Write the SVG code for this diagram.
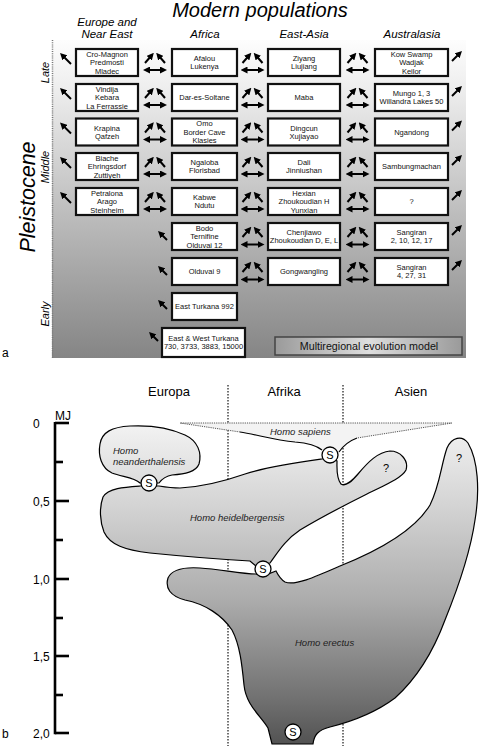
<svg xmlns="http://www.w3.org/2000/svg" width="480" height="746" viewBox="0 0 480 746">
<defs>
<linearGradient id="bga" x1="0" y1="0" x2="0" y2="1">
<stop offset="0" stop-color="#fdfdfd"/><stop offset="0.15" stop-color="#eeeeee"/><stop offset="1" stop-color="#858585"/>
</linearGradient>
<linearGradient id="mrg" x1="0" y1="0" x2="1" y2="0">
<stop offset="0" stop-color="#9a9a9a"/><stop offset="0.5" stop-color="#dedede"/><stop offset="1" stop-color="#9a9a9a"/>
</linearGradient>
<linearGradient id="gb" gradientUnits="userSpaceOnUse" x1="0" y1="420" x2="0" y2="745">
<stop offset="0" stop-color="#f4f4f4"/><stop offset="0.246" stop-color="#d6d6d6"/><stop offset="0.554" stop-color="#acacac"/><stop offset="0.862" stop-color="#707070"/><stop offset="1" stop-color="#525252"/>
</linearGradient>
<marker id="ah" viewBox="0 0 10 10" refX="5" refY="5" markerWidth="7" markerHeight="7" markerUnits="userSpaceOnUse" orient="auto-start-reverse"><path d="M0,0 L10,5 L0,10 z" fill="#000"/></marker>
<style>
.ttl{font-family:"Liberation Sans",Arial,sans-serif;font-style:italic;fill:#000}
.hd{font-family:"Liberation Sans",Arial,sans-serif;font-style:italic;font-size:11.5px;text-anchor:middle;fill:#000}
.per{font-family:"Liberation Sans",Arial,sans-serif;font-style:italic;font-size:11px;text-anchor:middle;fill:#000}
.box{fill:#fff;stroke:#111;stroke-width:2.2}
.bt{font-family:"Liberation Sans",Arial,sans-serif;font-size:7.5px;text-anchor:middle;fill:#111}
.ar{stroke:#000;stroke-width:2;fill:none;marker-end:url(#ah)}
.dar{stroke:#000;stroke-width:2;fill:none;marker-start:url(#ah);marker-end:url(#ah)}
.lab{font-family:"Liberation Sans",Arial,sans-serif;font-size:12px;fill:#000}
.reg{font-family:"Liberation Sans",Arial,sans-serif;font-size:13px;text-anchor:middle;fill:#000}
.sp{font-family:"Liberation Sans",Arial,sans-serif;font-style:italic;font-size:9.5px;fill:#222}
.shape{fill:url(#gb);stroke:#000;stroke-width:1.2}
.sc{fill:#fff;stroke:#000;stroke-width:1.3}
.st{font-family:"Liberation Sans",Arial,sans-serif;font-size:11px;text-anchor:middle;fill:#000}
.tick{stroke:#000;stroke-width:2.6}
.dot{stroke:#444;stroke-width:1.5;stroke-dasharray:1.5 1.5;fill:none}
</style>
</defs>
<rect width="480" height="746" fill="#fff"/>

<!-- Panel a -->
<g id="panel-a-background">
<rect x="52" y="40" width="414" height="318" fill="url(#bga)"/>
<line x1="52.5" y1="40" x2="52.5" y2="358" stroke="#777" stroke-width="1.5" stroke-dasharray="1 1.2"/>
</g>
<text class="ttl" x="260" y="17" font-size="20" text-anchor="middle">Modern populations</text>
<text class="hd" x="107" y="26">Europe and</text>
<text class="hd" x="107" y="38">Near East</text>
<text class="hd" x="205" y="38">Africa</text>
<text class="hd" x="304" y="38">East-Asia</text>
<text class="hd" x="412" y="38">Australasia</text>
<text class="ttl" font-size="21.5" text-anchor="middle" transform="translate(35,197) rotate(-90)">Pleistocene</text>
<text class="per" transform="translate(49,72.5) rotate(-90)">Late</text>
<text class="per" transform="translate(49,167) rotate(-90)">Middle</text>
<text class="per" transform="translate(49,314) rotate(-90)">Early</text>
<text class="lab" x="2" y="357">a</text>

<g id="row0">
<g id="cro-magnon"><rect class="box" x="76" y="49" width="62" height="27"/><text class="bt" x="107" y="56.9">Cro-Magnon<tspan x="107" dy="8.3">Predmosti</tspan><tspan x="107" dy="8.3">Mladec</tspan></text></g>
<g id="afalou"><rect class="box" x="172" y="49" width="65" height="27"/><text class="bt" x="204.5" y="61.05">Afalou<tspan x="204.5" dy="8.3">Lukenya</tspan></text></g>
<g id="ziyang"><rect class="box" x="268" y="49" width="72" height="27"/><text class="bt" x="304" y="61.05">Ziyang<tspan x="304" dy="8.3">Liujiang</tspan></text></g>
<g id="kow-swamp"><rect class="box" x="375" y="49" width="73" height="27"/><text class="bt" x="411.5" y="56.9">Kow Swamp<tspan x="411.5" dy="8.3">Wadjak</tspan><tspan x="411.5" dy="8.3">Keilor</tspan></text></g>
</g>
<g id="row1">
<g id="vindija"><rect class="box" x="76" y="84" width="62" height="27"/><text class="bt" x="107" y="91.9">Vindija<tspan x="107" dy="8.3">Kebara</tspan><tspan x="107" dy="8.3">La Ferrassie</tspan></text></g>
<g id="dar-es-soltane"><rect class="box" x="172" y="84" width="65" height="27"/><text class="bt" x="204.5" y="100.2">Dar-es-Soltane</text></g>
<g id="maba"><rect class="box" x="268" y="84" width="72" height="27"/><text class="bt" x="304" y="100.2">Maba</text></g>
<g id="mungo"><rect class="box" x="375" y="84" width="73" height="27"/><text class="bt" x="411.5" y="96.05">Mungo 1, 3<tspan x="411.5" dy="8.3">Willandra Lakes 50</tspan></text></g>
</g>
<g id="row2">
<g id="krapina"><rect class="box" x="76" y="118.5" width="62" height="27"/><text class="bt" x="107" y="130.55">Krapina<tspan x="107" dy="8.3">Qafzeh</tspan></text></g>
<g id="omo"><rect class="box" x="172" y="118.5" width="65" height="27"/><text class="bt" x="204.5" y="126.4">Omo<tspan x="204.5" dy="8.3">Border Cave</tspan><tspan x="204.5" dy="8.3">Klasies</tspan></text></g>
<g id="dingcun"><rect class="box" x="268" y="118.5" width="72" height="27"/><text class="bt" x="304" y="130.55">Dingcun<tspan x="304" dy="8.3">Xujiayao</tspan></text></g>
<g id="ngandong"><rect class="box" x="375" y="118.5" width="73" height="27"/><text class="bt" x="411.5" y="134.7">Ngandong</text></g>
</g>
<g id="row3">
<g id="biache"><rect class="box" x="76" y="153" width="62" height="27"/><text class="bt" x="107" y="160.9">Biache<tspan x="107" dy="8.3">Ehringsdorf</tspan><tspan x="107" dy="8.3">Zuttiyeh</tspan></text></g>
<g id="ngaloba"><rect class="box" x="172" y="153" width="65" height="27"/><text class="bt" x="204.5" y="165.05">Ngaloba<tspan x="204.5" dy="8.3">Florisbad</tspan></text></g>
<g id="dali"><rect class="box" x="268" y="153" width="72" height="27"/><text class="bt" x="304" y="165.05">Dali<tspan x="304" dy="8.3">Jinniushan</tspan></text></g>
<g id="sambungmachan"><rect class="box" x="375" y="153" width="73" height="27"/><text class="bt" x="411.5" y="169.2">Sambungmachan</text></g>
</g>
<g id="row4">
<g id="petralona"><rect class="box" x="76" y="188" width="62" height="27"/><text class="bt" x="107" y="195.9">Petralona<tspan x="107" dy="8.3">Arago</tspan><tspan x="107" dy="8.3">Steinheim</tspan></text></g>
<g id="kabwe"><rect class="box" x="172" y="188" width="65" height="27"/><text class="bt" x="204.5" y="200.05">Kabwe<tspan x="204.5" dy="8.3">Ndutu</tspan></text></g>
<g id="hexian"><rect class="box" x="268" y="188" width="72" height="27"/><text class="bt" x="304" y="195.9">Hexian<tspan x="304" dy="8.3">Zhoukoudian H</tspan><tspan x="304" dy="8.3">Yunxian</tspan></text></g>
<g id="unknown-au"><rect class="box" x="375" y="188" width="73" height="27"/><text class="bt" x="411.5" y="204.2">?</text></g>
</g>
<g id="row5">
<g id="bodo"><rect class="box" x="172" y="223" width="65" height="27"/><text class="bt" x="204.5" y="230.9">Bodo<tspan x="204.5" dy="8.3">Ternifine</tspan><tspan x="204.5" dy="8.3">Olduvai 12</tspan></text></g>
<g id="chenjiawo"><rect class="box" x="268" y="223" width="72" height="27"/><text class="bt" x="304" y="235.05">Chenjiawo<tspan x="304" dy="8.3">Zhoukoudian D, E, L</tspan></text></g>
<g id="sangiran-a"><rect class="box" x="375" y="223" width="73" height="27"/><text class="bt" x="411.5" y="235.05">Sangiran<tspan x="411.5" dy="8.3">2, 10, 12, 17</tspan></text></g>
</g>
<g id="row6">
<g id="olduvai9"><rect class="box" x="172" y="258" width="65" height="27"/><text class="bt" x="204.5" y="274.2">Olduvai 9</text></g>
<g id="gongwangling"><rect class="box" x="268" y="258" width="72" height="27"/><text class="bt" x="304" y="274.2">Gongwangling</text></g>
<g id="sangiran-b"><rect class="box" x="375" y="258" width="73" height="27"/><text class="bt" x="411.5" y="270.05">Sangiran<tspan x="411.5" dy="8.3">4, 27, 31</tspan></text></g>
</g>
<g id="row7">
<g id="east-turkana"><rect class="box" x="172" y="293" width="65" height="27"/><text class="bt" x="204.5" y="309.2">East Turkana 992</text></g>
</g>
<g id="row8">
<g id="east-west-turkana"><rect class="box" x="162" y="328" width="83" height="29"/><text class="bt" x="203.5" y="340.5">East &amp; West Turkana<tspan x="203.5" dy="8.5">730, 3733, 3883, 15000</tspan></text></g>
</g>
<g id="model-label">
<rect x="275" y="337" width="187" height="18" fill="url(#mrg)" stroke="#444" stroke-width="1.5"/>
<text x="369" y="350" font-family="'Liberation Sans',Arial,sans-serif" font-size="10.7" text-anchor="middle" fill="#111">Multiregional evolution model</text>
</g>

<g id="connectors">
<line class="ar" x1="71" y1="64" x2="62.5" y2="55.5"/>
<line class="ar" x1="145" y1="63" x2="151.5" y2="55.5"/><line class="ar" x1="165" y1="63" x2="158.5" y2="55.5"/><line class="dar" x1="146.5" y1="70" x2="163.5" y2="70"/>
<line class="ar" x1="242.5" y1="63" x2="249" y2="55.5"/><line class="ar" x1="262.5" y1="63" x2="256" y2="55.5"/><line class="dar" x1="244" y1="70" x2="261" y2="70"/>
<line class="ar" x1="347.5" y1="63" x2="354" y2="55.5"/><line class="ar" x1="367.5" y1="63" x2="361" y2="55.5"/><line class="dar" x1="349" y1="70" x2="366" y2="70"/>
<line class="ar" x1="452" y1="61" x2="459.5" y2="53.5"/>

<line class="ar" x1="71" y1="99" x2="62.5" y2="90.5"/>
<line class="ar" x1="145" y1="98" x2="151.5" y2="90.5"/><line class="ar" x1="165" y1="98" x2="158.5" y2="90.5"/><line class="dar" x1="146.5" y1="105" x2="163.5" y2="105"/>
<line class="ar" x1="242.5" y1="98" x2="249" y2="90.5"/><line class="ar" x1="262.5" y1="98" x2="256" y2="90.5"/><line class="dar" x1="244" y1="105" x2="261" y2="105"/>
<line class="ar" x1="347.5" y1="98" x2="354" y2="90.5"/><line class="ar" x1="367.5" y1="98" x2="361" y2="90.5"/><line class="dar" x1="349" y1="105" x2="366" y2="105"/>
<line class="ar" x1="452" y1="96" x2="459.5" y2="88.5"/>

<line class="ar" x1="71" y1="133.5" x2="62.5" y2="125"/>
<line class="ar" x1="145" y1="132.5" x2="151.5" y2="125"/><line class="ar" x1="165" y1="132.5" x2="158.5" y2="125"/><line class="dar" x1="146.5" y1="139.5" x2="163.5" y2="139.5"/>
<line class="ar" x1="242.5" y1="132.5" x2="249" y2="125"/><line class="ar" x1="262.5" y1="132.5" x2="256" y2="125"/><line class="dar" x1="244" y1="139.5" x2="261" y2="139.5"/>
<line class="ar" x1="347.5" y1="132.5" x2="354" y2="125"/><line class="ar" x1="367.5" y1="132.5" x2="361" y2="125"/><line class="dar" x1="349" y1="139.5" x2="366" y2="139.5"/>
<line class="ar" x1="452" y1="130.5" x2="459.5" y2="123"/>

<line class="ar" x1="71" y1="168" x2="62.5" y2="159.5"/>
<line class="ar" x1="145" y1="167" x2="151.5" y2="159.5"/><line class="ar" x1="165" y1="167" x2="158.5" y2="159.5"/><line class="dar" x1="146.5" y1="174" x2="163.5" y2="174"/>
<line class="ar" x1="242.5" y1="167" x2="249" y2="159.5"/><line class="ar" x1="262.5" y1="167" x2="256" y2="159.5"/><line class="dar" x1="244" y1="174" x2="261" y2="174"/>
<line class="ar" x1="347.5" y1="167" x2="354" y2="159.5"/><line class="ar" x1="367.5" y1="167" x2="361" y2="159.5"/><line class="dar" x1="349" y1="174" x2="366" y2="174"/>
<line class="ar" x1="452" y1="165" x2="459.5" y2="157.5"/>

<line class="ar" x1="71" y1="203" x2="62.5" y2="194.5"/>
<line class="ar" x1="145" y1="202" x2="151.5" y2="194.5"/><line class="ar" x1="165" y1="202" x2="158.5" y2="194.5"/><line class="dar" x1="146.5" y1="209" x2="163.5" y2="209"/>
<line class="ar" x1="242.5" y1="202" x2="249" y2="194.5"/><line class="ar" x1="262.5" y1="202" x2="256" y2="194.5"/><line class="dar" x1="244" y1="209" x2="261" y2="209"/>
<line class="ar" x1="347.5" y1="202" x2="354" y2="194.5"/><line class="ar" x1="367.5" y1="202" x2="361" y2="194.5"/><line class="dar" x1="349" y1="209" x2="366" y2="209"/>
<line class="ar" x1="452" y1="200" x2="459.5" y2="192.5"/>

<line class="ar" x1="167" y1="240" x2="160.5" y2="233.5"/>
<line class="ar" x1="242.5" y1="237" x2="249" y2="229.5"/><line class="ar" x1="262.5" y1="237" x2="256" y2="229.5"/><line class="dar" x1="244" y1="244.5" x2="261" y2="244.5"/>
<line class="ar" x1="347.5" y1="237" x2="354" y2="229.5"/><line class="ar" x1="367.5" y1="237" x2="361" y2="229.5"/><line class="dar" x1="349" y1="244.5" x2="366" y2="244.5"/>
<line class="ar" x1="452" y1="235" x2="459.5" y2="227.5"/>

<line class="ar" x1="167" y1="275" x2="160.5" y2="268.5"/>
<line class="ar" x1="242.5" y1="272" x2="249" y2="264.5"/><line class="ar" x1="262.5" y1="272" x2="256" y2="264.5"/><line class="dar" x1="244" y1="279.5" x2="261" y2="279.5"/>
<line class="ar" x1="347.5" y1="272" x2="354" y2="264.5"/><line class="ar" x1="367.5" y1="272" x2="361" y2="264.5"/><line class="dar" x1="349" y1="279.5" x2="366" y2="279.5"/>
<line class="ar" x1="452" y1="270" x2="459.5" y2="262.5"/>

<line class="ar" x1="167" y1="309" x2="160.5" y2="302.5"/>
<line class="ar" x1="158" y1="341" x2="151.5" y2="334.5"/>
</g>

<!-- Panel b -->
<g id="regions">
<text class="reg" x="169" y="396">Europa</text>
<text class="reg" x="284" y="396">Afrika</text>
<text class="reg" x="411" y="396">Asien</text>
<line class="dot" x1="228" y1="385" x2="228" y2="746"/>
<line class="dot" x1="343" y1="385" x2="343" y2="746"/>
</g>
<g id="time-axis">
<line x1="55" y1="422" x2="55" y2="734.3" stroke="#000" stroke-width="2.6"/>
<line class="tick" x1="55" y1="423" x2="69" y2="423"/>
<line class="tick" x1="55" y1="462" x2="63" y2="462"/>
<line class="tick" x1="55" y1="501" x2="69" y2="501"/>
<line class="tick" x1="55" y1="540" x2="63" y2="540"/>
<line class="tick" x1="55" y1="579" x2="69" y2="579"/>
<line class="tick" x1="55" y1="618" x2="63" y2="618"/>
<line class="tick" x1="55" y1="656" x2="69" y2="656"/>
<line class="tick" x1="55" y1="695" x2="63" y2="695"/>
<line class="tick" x1="55" y1="733" x2="69" y2="733"/>
<text class="lab" x="55" y="420">MJ</text>
<text class="lab" x="33" y="428">0</text>
<text class="lab" x="33" y="506">0,5</text>
<text class="lab" x="33" y="584">1,0</text>
<text class="lab" x="33" y="661">1,5</text>
<text class="lab" x="33" y="738">2,0</text>
<text class="lab" x="2" y="738">b</text>
</g>

<g id="homo-sapiens">
<path d="M180,423 L452,423 L357,438 C349,441 343,446 339,452 L330,456 L322,450 C316,445 308,443 295,442 C275,440 258,435 240,432 Z" fill="#f3f3f3" stroke="none"/>
<path d="M240,432 L180,423 L452,423 L357,438" fill="none" stroke="#555" stroke-width="1" stroke-dasharray="1.2 1"/>
<path d="M240,432 C258,435 275,440 295,442 C308,443 316,445 322,450 M339,452 C343,446 349,441 357,438" fill="none" stroke="#000" stroke-width="1.2"/>
<text class="sp" x="270" y="434.5">Homo sapiens</text>
</g>
<g id="homo-neanderthalensis">
<path class="shape" d="M140,483 C134,477 122,477 112,473 C101,468 98,455 100,444 C102,432 112,427 130,426 C150,425 170,428 185,435 C198,441 202,453 199,464 C196,472 185,474 172,475 C165,476 162,479 159,483 Z"/>
<text class="sp" x="113" y="453.5">Homo</text>
<text class="sp" x="113" y="465">neanderthalensis</text>
</g>
<g id="homo-heidelbergensis">
<path class="shape" d="M140,486 C125,487 108,488 103,497 C99,508 100,522 104,532 C110,545 125,550 150,553 C180,556 215,559 250,561 L256,566 L270,563 C278,552 285,540 300,530 C320,518 345,505 365,495 C385,485 402,478 406,470 C409,460 400,451 390,451 C378,452 368,462 358,474 C352,481 346,487 341,484 C336,478 337,468 337,461 L330,458 L322,459 C300,462 270,466 245,474 C225,481 200,487 180,488 C172,488 165,487 159,486 Z"/>
<text class="sp" x="190" y="521">Homo heidelbergensis</text>
<text class="st" x="386" y="472" font-size="10.5">?</text>
</g>
<g id="homo-erectus">
<path class="shape" d="M256,574 C240,574 220,569 200,568 C185,567 172,569 168,578 C165,588 170,596 185,600 C205,604 222,615 232,630 C240,645 242,665 244,685 C246,705 260,715 268,728 L272,744 L313,744 C314,735 318,730 330,727 C350,722 375,713 395,698 C415,680 432,655 445,620 C458,588 470,555 475,520 C480,490 478,460 468,443 C462,435 452,437 447,448 C441,465 440,485 430,505 C415,530 380,550 340,566 C315,577 295,586 285,582 C280,579 278,575 276,571 L263,576 Z"/>
<text class="sp" x="295" y="646" font-size="10">Homo erectus</text>
<text class="st" x="459" y="462" font-size="10.5">?</text>
</g>
<g id="speciation-events">
<circle class="sc" cx="149" cy="483" r="8"/><text class="st" x="149" y="487">S</text>
<circle class="sc" cx="330" cy="455" r="8"/><text class="st" x="330" y="459">S</text>
<circle class="sc" cx="263" cy="569" r="8"/><text class="st" x="263" y="573">S</text>
<circle class="sc" cx="293" cy="732" r="8"/><text class="st" x="293" y="736">S</text>
</g>
</svg>
